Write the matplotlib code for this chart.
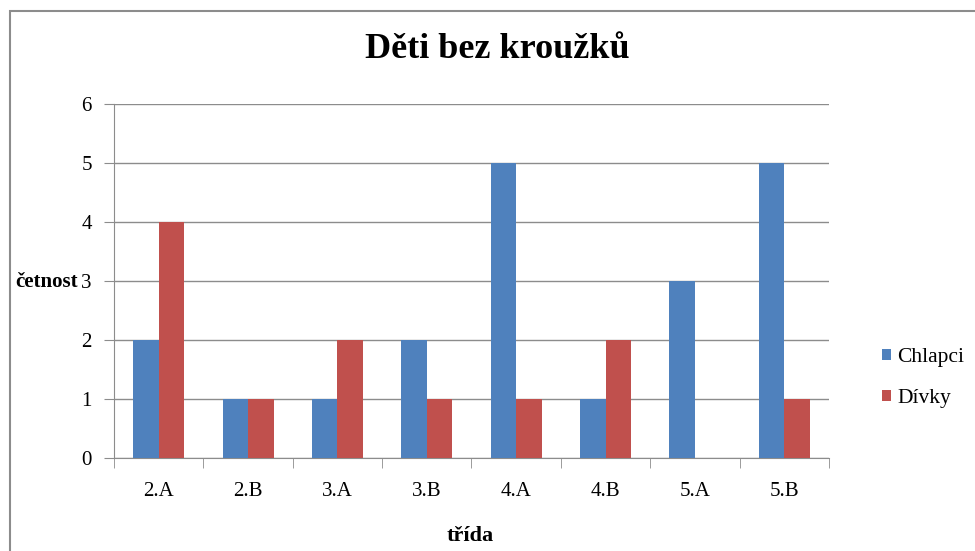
import numpy as np
import matplotlib
matplotlib.use('Agg')
import matplotlib.pyplot as plt
from matplotlib.patches import Rectangle

# data
tridy = ['2.A', '2.B', '3.A', '3.B', '4.A', '4.B', '5.A', '5.B']
chlapci = [2, 1, 1, 2, 5, 1, 3, 5]
divky = [4, 1, 2, 1, 1, 2, 0, 1]

blue = '#4F81BD'
red = '#C0504D'
grey = '#8C8C8C'

plt.rcParams['font.family'] = ['Liberation Serif', 'DejaVu Serif']

fig = plt.figure(figsize=(9.75, 5.51), dpi=100)
ax = fig.add_axes([114 / 975, 1 - 458 / 551, (829 - 114) / 975, (458 - 104) / 551])

# outer chart frame (runs off the right and bottom edge)
fig.patches.append(Rectangle((10 / 975, -0.1), 1.2, 1 - 11 / 551 + 0.1,
                             transform=fig.transFigure, fill=False,
                             edgecolor=grey, linewidth=1.5))

x = np.arange(len(tridy))
w = 1 / 3.5
ax.bar(x - w / 2, chlapci, w, color=blue, label='Chlapci', zorder=3)
ax.bar(x + w / 2, divky, w, color=red, label='Dívky', zorder=3)

ax.set_xlim(-0.5, len(tridy) - 0.5)
ax.set_ylim(0, 6)
ax.set_yticks(range(7))
ax.yaxis.grid(True, color=grey, linewidth=1)
ax.set_axisbelow(True)

ax.set_xticks(x)
ax.set_xticklabels(tridy)
ax.set_xticks(np.arange(-0.5, len(tridy)), minor=True)
ax.tick_params(axis='x', which='major', length=0, pad=17, labelsize=15)
ax.tick_params(axis='x', which='minor', length=7, color=grey, direction='out')
ax.tick_params(axis='y', length=7, color=grey, pad=9, labelsize=15)

for s in ['top', 'right']:
    ax.spines[s].set_visible(False)
for s in ['left', 'bottom']:
    ax.spines[s].set_color(grey)

fig.text(497 / 975, 1 - 50 / 551, 'Děti bez kroužků', ha='center', va='center',
         fontsize=26, fontweight='bold')
fig.text(15 / 975, 1 - 282 / 551, 'četnost', ha='left', va='center',
         fontsize=15, fontweight='bold')
fig.text(470 / 975, 1 - 536 / 551, 'třída', ha='center', va='center',
         fontsize=16, fontweight='bold')

ax.legend(loc='center left', bbox_to_anchor=(882 / 975, 1 - 378 / 551),
          bbox_transform=fig.transFigure, frameon=False, fontsize=15.5,
          handlelength=0.4, handleheight=0.4, handletextpad=0.3,
          labelspacing=1.0, borderpad=0, borderaxespad=0)

fig.savefig('out.png', dpi=100)
